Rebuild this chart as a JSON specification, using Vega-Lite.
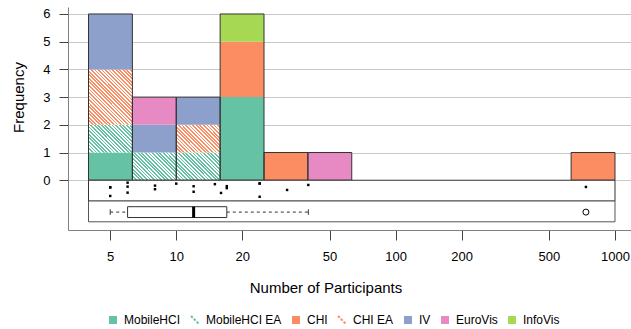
{
  "$schema": "https://vega.github.io/schema/vega-lite/v6.json",
  "width": 563,
  "height": 223,
  "autosize": {"type": "none"},
  "padding": {"left": 68, "top": 7, "right": 0, "bottom": 99},
  "background": "white",
  "config": {"view": {"stroke": null}, "font": "Liberation Sans"},
  "datasets": {
    "bins": [
      {"lo": 3.981, "hi": 6.31, "cat": "MobileHCI", "n": 1},
      {"lo": 3.981, "hi": 6.31, "cat": "MobileHCI EA", "n": 1},
      {"lo": 3.981, "hi": 6.31, "cat": "CHI EA", "n": 2},
      {"lo": 3.981, "hi": 6.31, "cat": "IV", "n": 2},
      {"lo": 6.31, "hi": 10, "cat": "MobileHCI EA", "n": 1},
      {"lo": 6.31, "hi": 10, "cat": "IV", "n": 1},
      {"lo": 6.31, "hi": 10, "cat": "EuroVis", "n": 1},
      {"lo": 10, "hi": 15.85, "cat": "MobileHCI EA", "n": 1},
      {"lo": 10, "hi": 15.85, "cat": "CHI EA", "n": 1},
      {"lo": 10, "hi": 15.85, "cat": "IV", "n": 1},
      {"lo": 15.85, "hi": 25.12, "cat": "MobileHCI", "n": 3},
      {"lo": 15.85, "hi": 25.12, "cat": "CHI", "n": 2},
      {"lo": 15.85, "hi": 25.12, "cat": "InfoVis", "n": 1},
      {"lo": 25.12, "hi": 39.81, "cat": "CHI", "n": 1},
      {"lo": 39.81, "hi": 63.1, "cat": "EuroVis", "n": 1},
      {"lo": 630.96, "hi": 1000, "cat": "CHI", "n": 1}
    ],
    "studies": [
      {"value": 5, "jitter": -0.253},
      {"value": 5, "jitter": -0.567},
      {"value": 5, "jitter": -0.26},
      {"value": 6, "jitter": -0.087},
      {"value": 6, "jitter": -0.231},
      {"value": 6, "jitter": -0.448},
      {"value": 8, "jitter": -0.195},
      {"value": 8, "jitter": -0.325},
      {"value": 10, "jitter": -0.123},
      {"value": 12, "jitter": -0.217},
      {"value": 12, "jitter": -0.416},
      {"value": 15, "jitter": -0.141},
      {"value": 16, "jitter": -0.459},
      {"value": 17, "jitter": -0.213},
      {"value": 17, "jitter": -0.286},
      {"value": 24, "jitter": -0.116},
      {"value": 24, "jitter": -0.12},
      {"value": 24, "jitter": -0.596},
      {"value": 32, "jitter": -0.351},
      {"value": 40, "jitter": -0.17},
      {"value": 737, "jitter": -0.242}
    ],
    "box": [{"min": 5, "q1": 6, "med": 12, "q3": 17, "max": 40, "out": 737}]
  },
  "layer": [
    {
      "data": {"name": "bins"},
      "transform": [
        {"calculate": "indexof(['MobileHCI','MobileHCI EA','CHI','CHI EA','IV','EuroVis','InfoVis'], datum.cat)", "as": "ord"},
        {"stack": "n", "groupby": ["lo"], "sort": [{"field": "ord", "order": "ascending"}], "as": ["y0", "y1"]}
      ],
      "mark": {"type": "rect"},
      "encoding": {
        "x": {
          "field": "lo", "type": "quantitative", "title": "Number of Participants",
          "scale": {"type": "log", "domain": [3.21, 1183], "nice": false},
          "axis": {
            "values": [5, 10, 20, 50, 100, 200, 500, 1000], "tickCount": 20, "format": "d", "grid": false,
            "tickSize": 10, "tickColor": "#444", "domainColor": "#808080",
            "labelFontSize": 13, "labelColor": "#000", "labelPadding": 10, "labelFlush": false, "labelOverlap": false,
            "titleFontSize": 15, "titleFontWeight": "normal", "titleColor": "#000", "titlePadding": 17, "titleX": 257.5
          }
        },
        "x2": {"field": "hi"},
        "y": {
          "field": "y0", "type": "quantitative", "title": "Frequency",
          "scale": {"domain": [-1.796, 6.252], "nice": false, "zero": false},
          "axis": {
            "values": [0, 1, 2, 3, 4, 5, 6], "tickCount": 12, "format": "d", "grid": true, "gridColor": "#c8c8c8", "labelOverlap": false,
            "tickSize": 9, "tickColor": "#444", "domainColor": "#808080",
            "labelFontSize": 13, "labelColor": "#000", "labelPadding": 9,
            "titleFontSize": 15, "titleFontWeight": "normal", "titleColor": "#000", "titlePadding": 16, "titleY": 90
          }
        },
        "y2": {"field": "y1"},
        "fill": {
          "field": "cat", "type": "nominal",
          "scale": {
            "domain": ["MobileHCI", "MobileHCI EA", "CHI", "CHI EA", "IV", "EuroVis", "InfoVis"],
            "range": ["#66c2a5", "#66c2a5", "#fc8d62", "#fc8d62", "#8da0cb", "#e78ac3", "#a6d854"]
          },
          "legend": {
            "title": null, "orient": "none", "legendX": 39, "legendY": 307, "direction": "horizontal",
            "symbolSize": 64, "labelFontSize": 12, "labelFont": "Liberation Sans", "labelColor": "#000",
            "columnPadding": 6, "labelOffset": 5,
            "encode": {"symbols": {"update": {
              "shape": {"signal": "indexof(datum.value, ' EA') >= 0 ? 'M-1,-1L1,1' : 'square'"},
              "fill": {"signal": "indexof(datum.value, ' EA') >= 0 ? 'transparent' : scale('fill', datum.value)"},
              "stroke": {"signal": "indexof(datum.value, ' EA') >= 0 ? scale('fill', datum.value) : 'transparent'"},
              "strokeWidth": {"value": 2},
              "strokeDash": {"value": [2.5, 1.5]}
            }}}
          },
          "condition": [
            {"test": "datum.cat === 'MobileHCI EA'", "value": {"gradient": "linear", "x1": 0, "y1": 1, "x2": 1.1673, "y2": 0.2658, "stops": [
{"offset":0,"color":"#66c2a5"},{"offset":0.025,"color":"#66c2a5"},{"offset":0.025,"color":"#fff"},{"offset":0.05,"color":"#fff"},
{"offset":0.05,"color":"#66c2a5"},{"offset":0.075,"color":"#66c2a5"},{"offset":0.075,"color":"#fff"},{"offset":0.1,"color":"#fff"},
{"offset":0.1,"color":"#66c2a5"},{"offset":0.125,"color":"#66c2a5"},{"offset":0.125,"color":"#fff"},{"offset":0.15,"color":"#fff"},
{"offset":0.15,"color":"#66c2a5"},{"offset":0.175,"color":"#66c2a5"},{"offset":0.175,"color":"#fff"},{"offset":0.2,"color":"#fff"},
{"offset":0.2,"color":"#66c2a5"},{"offset":0.225,"color":"#66c2a5"},{"offset":0.225,"color":"#fff"},{"offset":0.25,"color":"#fff"},
{"offset":0.25,"color":"#66c2a5"},{"offset":0.275,"color":"#66c2a5"},{"offset":0.275,"color":"#fff"},{"offset":0.3,"color":"#fff"},
{"offset":0.3,"color":"#66c2a5"},{"offset":0.325,"color":"#66c2a5"},{"offset":0.325,"color":"#fff"},{"offset":0.35,"color":"#fff"},
{"offset":0.35,"color":"#66c2a5"},{"offset":0.375,"color":"#66c2a5"},{"offset":0.375,"color":"#fff"},{"offset":0.4,"color":"#fff"},
{"offset":0.4,"color":"#66c2a5"},{"offset":0.425,"color":"#66c2a5"},{"offset":0.425,"color":"#fff"},{"offset":0.45,"color":"#fff"},
{"offset":0.45,"color":"#66c2a5"},{"offset":0.475,"color":"#66c2a5"},{"offset":0.475,"color":"#fff"},{"offset":0.5,"color":"#fff"},
{"offset":0.5,"color":"#66c2a5"},{"offset":0.525,"color":"#66c2a5"},{"offset":0.525,"color":"#fff"},{"offset":0.55,"color":"#fff"},
{"offset":0.55,"color":"#66c2a5"},{"offset":0.575,"color":"#66c2a5"},{"offset":0.575,"color":"#fff"},{"offset":0.6,"color":"#fff"},
{"offset":0.6,"color":"#66c2a5"},{"offset":0.625,"color":"#66c2a5"},{"offset":0.625,"color":"#fff"},{"offset":0.65,"color":"#fff"},
{"offset":0.65,"color":"#66c2a5"},{"offset":0.675,"color":"#66c2a5"},{"offset":0.675,"color":"#fff"},{"offset":0.7,"color":"#fff"},
{"offset":0.7,"color":"#66c2a5"},{"offset":0.725,"color":"#66c2a5"},{"offset":0.725,"color":"#fff"},{"offset":0.75,"color":"#fff"},
{"offset":0.75,"color":"#66c2a5"},{"offset":0.775,"color":"#66c2a5"},{"offset":0.775,"color":"#fff"},{"offset":0.8,"color":"#fff"},
{"offset":0.8,"color":"#66c2a5"},{"offset":0.825,"color":"#66c2a5"},{"offset":0.825,"color":"#fff"},{"offset":0.85,"color":"#fff"},
{"offset":0.85,"color":"#66c2a5"},{"offset":0.875,"color":"#66c2a5"},{"offset":0.875,"color":"#fff"},{"offset":0.9,"color":"#fff"},
{"offset":0.9,"color":"#66c2a5"},{"offset":0.925,"color":"#66c2a5"},{"offset":0.925,"color":"#fff"},{"offset":0.95,"color":"#fff"},
{"offset":0.95,"color":"#66c2a5"},{"offset":0.975,"color":"#66c2a5"},{"offset":0.975,"color":"#fff"},{"offset":1,"color":"#fff"}
            ]}},
            {"test": "datum.cat === 'CHI EA' && datum.n === 1", "value": {"gradient": "linear", "x1": 0, "y1": 1, "x2": 1.1673, "y2": 0.2658, "stops": [
{"offset":0,"color":"#fc8d62"},{"offset":0.025,"color":"#fc8d62"},{"offset":0.025,"color":"#fff"},{"offset":0.05,"color":"#fff"},
{"offset":0.05,"color":"#fc8d62"},{"offset":0.075,"color":"#fc8d62"},{"offset":0.075,"color":"#fff"},{"offset":0.1,"color":"#fff"},
{"offset":0.1,"color":"#fc8d62"},{"offset":0.125,"color":"#fc8d62"},{"offset":0.125,"color":"#fff"},{"offset":0.15,"color":"#fff"},
{"offset":0.15,"color":"#fc8d62"},{"offset":0.175,"color":"#fc8d62"},{"offset":0.175,"color":"#fff"},{"offset":0.2,"color":"#fff"},
{"offset":0.2,"color":"#fc8d62"},{"offset":0.225,"color":"#fc8d62"},{"offset":0.225,"color":"#fff"},{"offset":0.25,"color":"#fff"},
{"offset":0.25,"color":"#fc8d62"},{"offset":0.275,"color":"#fc8d62"},{"offset":0.275,"color":"#fff"},{"offset":0.3,"color":"#fff"},
{"offset":0.3,"color":"#fc8d62"},{"offset":0.325,"color":"#fc8d62"},{"offset":0.325,"color":"#fff"},{"offset":0.35,"color":"#fff"},
{"offset":0.35,"color":"#fc8d62"},{"offset":0.375,"color":"#fc8d62"},{"offset":0.375,"color":"#fff"},{"offset":0.4,"color":"#fff"},
{"offset":0.4,"color":"#fc8d62"},{"offset":0.425,"color":"#fc8d62"},{"offset":0.425,"color":"#fff"},{"offset":0.45,"color":"#fff"},
{"offset":0.45,"color":"#fc8d62"},{"offset":0.475,"color":"#fc8d62"},{"offset":0.475,"color":"#fff"},{"offset":0.5,"color":"#fff"},
{"offset":0.5,"color":"#fc8d62"},{"offset":0.525,"color":"#fc8d62"},{"offset":0.525,"color":"#fff"},{"offset":0.55,"color":"#fff"},
{"offset":0.55,"color":"#fc8d62"},{"offset":0.575,"color":"#fc8d62"},{"offset":0.575,"color":"#fff"},{"offset":0.6,"color":"#fff"},
{"offset":0.6,"color":"#fc8d62"},{"offset":0.625,"color":"#fc8d62"},{"offset":0.625,"color":"#fff"},{"offset":0.65,"color":"#fff"},
{"offset":0.65,"color":"#fc8d62"},{"offset":0.675,"color":"#fc8d62"},{"offset":0.675,"color":"#fff"},{"offset":0.7,"color":"#fff"},
{"offset":0.7,"color":"#fc8d62"},{"offset":0.725,"color":"#fc8d62"},{"offset":0.725,"color":"#fff"},{"offset":0.75,"color":"#fff"},
{"offset":0.75,"color":"#fc8d62"},{"offset":0.775,"color":"#fc8d62"},{"offset":0.775,"color":"#fff"},{"offset":0.8,"color":"#fff"},
{"offset":0.8,"color":"#fc8d62"},{"offset":0.825,"color":"#fc8d62"},{"offset":0.825,"color":"#fff"},{"offset":0.85,"color":"#fff"},
{"offset":0.85,"color":"#fc8d62"},{"offset":0.875,"color":"#fc8d62"},{"offset":0.875,"color":"#fff"},{"offset":0.9,"color":"#fff"},
{"offset":0.9,"color":"#fc8d62"},{"offset":0.925,"color":"#fc8d62"},{"offset":0.925,"color":"#fff"},{"offset":0.95,"color":"#fff"},
{"offset":0.95,"color":"#fc8d62"},{"offset":0.975,"color":"#fc8d62"},{"offset":0.975,"color":"#fff"},{"offset":1,"color":"#fff"}
            ]}},
            {"test": "datum.cat === 'CHI EA' && datum.n === 2", "value": {"gradient": "linear", "x1": 0, "y1": 1, "x2": 0.8743, "y2": -0.0999, "stops": [
{"offset":0,"color":"#fc8d62"},{"offset":0.0179,"color":"#fc8d62"},{"offset":0.0179,"color":"#fff"},{"offset":0.0357,"color":"#fff"},
{"offset":0.0357,"color":"#fc8d62"},{"offset":0.0536,"color":"#fc8d62"},{"offset":0.0536,"color":"#fff"},{"offset":0.0714,"color":"#fff"},
{"offset":0.0714,"color":"#fc8d62"},{"offset":0.0893,"color":"#fc8d62"},{"offset":0.0893,"color":"#fff"},{"offset":0.1071,"color":"#fff"},
{"offset":0.1071,"color":"#fc8d62"},{"offset":0.125,"color":"#fc8d62"},{"offset":0.125,"color":"#fff"},{"offset":0.1429,"color":"#fff"},
{"offset":0.1429,"color":"#fc8d62"},{"offset":0.1607,"color":"#fc8d62"},{"offset":0.1607,"color":"#fff"},{"offset":0.1786,"color":"#fff"},
{"offset":0.1786,"color":"#fc8d62"},{"offset":0.1964,"color":"#fc8d62"},{"offset":0.1964,"color":"#fff"},{"offset":0.2143,"color":"#fff"},
{"offset":0.2143,"color":"#fc8d62"},{"offset":0.2321,"color":"#fc8d62"},{"offset":0.2321,"color":"#fff"},{"offset":0.25,"color":"#fff"},
{"offset":0.25,"color":"#fc8d62"},{"offset":0.2679,"color":"#fc8d62"},{"offset":0.2679,"color":"#fff"},{"offset":0.2857,"color":"#fff"},
{"offset":0.2857,"color":"#fc8d62"},{"offset":0.3036,"color":"#fc8d62"},{"offset":0.3036,"color":"#fff"},{"offset":0.3214,"color":"#fff"},
{"offset":0.3214,"color":"#fc8d62"},{"offset":0.3393,"color":"#fc8d62"},{"offset":0.3393,"color":"#fff"},{"offset":0.3571,"color":"#fff"},
{"offset":0.3571,"color":"#fc8d62"},{"offset":0.375,"color":"#fc8d62"},{"offset":0.375,"color":"#fff"},{"offset":0.3929,"color":"#fff"},
{"offset":0.3929,"color":"#fc8d62"},{"offset":0.4107,"color":"#fc8d62"},{"offset":0.4107,"color":"#fff"},{"offset":0.4286,"color":"#fff"},
{"offset":0.4286,"color":"#fc8d62"},{"offset":0.4464,"color":"#fc8d62"},{"offset":0.4464,"color":"#fff"},{"offset":0.4643,"color":"#fff"},
{"offset":0.4643,"color":"#fc8d62"},{"offset":0.4821,"color":"#fc8d62"},{"offset":0.4821,"color":"#fff"},{"offset":0.5,"color":"#fff"},
{"offset":0.5,"color":"#fc8d62"},{"offset":0.5179,"color":"#fc8d62"},{"offset":0.5179,"color":"#fff"},{"offset":0.5357,"color":"#fff"},
{"offset":0.5357,"color":"#fc8d62"},{"offset":0.5536,"color":"#fc8d62"},{"offset":0.5536,"color":"#fff"},{"offset":0.5714,"color":"#fff"},
{"offset":0.5714,"color":"#fc8d62"},{"offset":0.5893,"color":"#fc8d62"},{"offset":0.5893,"color":"#fff"},{"offset":0.6071,"color":"#fff"},
{"offset":0.6071,"color":"#fc8d62"},{"offset":0.625,"color":"#fc8d62"},{"offset":0.625,"color":"#fff"},{"offset":0.6429,"color":"#fff"},
{"offset":0.6429,"color":"#fc8d62"},{"offset":0.6607,"color":"#fc8d62"},{"offset":0.6607,"color":"#fff"},{"offset":0.6786,"color":"#fff"},
{"offset":0.6786,"color":"#fc8d62"},{"offset":0.6964,"color":"#fc8d62"},{"offset":0.6964,"color":"#fff"},{"offset":0.7143,"color":"#fff"},
{"offset":0.7143,"color":"#fc8d62"},{"offset":0.7321,"color":"#fc8d62"},{"offset":0.7321,"color":"#fff"},{"offset":0.75,"color":"#fff"},
{"offset":0.75,"color":"#fc8d62"},{"offset":0.7679,"color":"#fc8d62"},{"offset":0.7679,"color":"#fff"},{"offset":0.7857,"color":"#fff"},
{"offset":0.7857,"color":"#fc8d62"},{"offset":0.8036,"color":"#fc8d62"},{"offset":0.8036,"color":"#fff"},{"offset":0.8214,"color":"#fff"},
{"offset":0.8214,"color":"#fc8d62"},{"offset":0.8393,"color":"#fc8d62"},{"offset":0.8393,"color":"#fff"},{"offset":0.8571,"color":"#fff"},
{"offset":0.8571,"color":"#fc8d62"},{"offset":0.875,"color":"#fc8d62"},{"offset":0.875,"color":"#fff"},{"offset":0.8929,"color":"#fff"},
{"offset":0.8929,"color":"#fc8d62"},{"offset":0.9107,"color":"#fc8d62"},{"offset":0.9107,"color":"#fff"},{"offset":0.9286,"color":"#fff"},
{"offset":0.9286,"color":"#fc8d62"},{"offset":0.9464,"color":"#fc8d62"},{"offset":0.9464,"color":"#fff"},{"offset":0.9643,"color":"#fff"},
{"offset":0.9643,"color":"#fc8d62"},{"offset":0.9821,"color":"#fc8d62"},{"offset":0.9821,"color":"#fff"},{"offset":1,"color":"#fff"}
            ]}}
          ]
        }
      }
    },
    {
      "data": {"name": "bins"},
      "transform": [{"aggregate": [{"op": "sum", "field": "n", "as": "total"}], "groupby": ["lo", "hi"]}],
      "mark": {"type": "rect", "fill": "transparent", "stroke": "#333", "strokeWidth": 1},
      "encoding": {
        "x": {"field": "lo", "type": "quantitative", "title": "Number of Participants"},
        "x2": {"field": "hi"},
        "y": {"field": "total", "type": "quantitative", "title": "Frequency"},
        "y2": {"datum": 0}
      }
    },
    {
      "data": {"name": "box"},
      "mark": {"type": "rect", "fill": "white", "stroke": "#333", "strokeWidth": 1},
      "encoding": {
        "x": {"datum": 3.981, "type": "quantitative", "title": "Number of Participants"},
        "x2": {"datum": 1000},
        "y": {"datum": 0, "type": "quantitative", "title": "Frequency"},
        "y2": {"datum": -0.75}
      }
    },
    {
      "data": {"name": "box"},
      "mark": {"type": "rect", "fill": "white", "stroke": "#555", "strokeWidth": 1},
      "encoding": {
        "x": {"datum": 3.981, "type": "quantitative", "title": "Number of Participants"},
        "x2": {"datum": 1000},
        "y": {"datum": -0.75, "type": "quantitative", "title": "Frequency"},
        "y2": {"datum": -1.5}
      }
    },
    {
      "data": {"name": "studies"},
      "mark": {"type": "point", "shape": "square", "filled": true, "color": "#000", "size": 6, "opacity": 1},
      "encoding": {
        "x": {"field": "value", "type": "quantitative", "title": "Number of Participants"},
        "y": {"field": "jitter", "type": "quantitative", "title": "Frequency"}
      }
    },
    {
      "data": {"name": "box"},
      "mark": {"type": "rule", "stroke": "#333", "strokeWidth": 1, "strokeDash": [3, 3]},
      "encoding": {
        "x": {"field": "min", "type": "quantitative", "title": "Number of Participants"},
        "x2": {"field": "q1"},
        "y": {"datum": -1.15, "type": "quantitative", "title": "Frequency"}
      }
    },
    {
      "data": {"name": "box"},
      "mark": {"type": "rule", "stroke": "#333", "strokeWidth": 1, "strokeDash": [3, 3]},
      "encoding": {
        "x": {"field": "q3", "type": "quantitative", "title": "Number of Participants"},
        "x2": {"field": "max"},
        "y": {"datum": -1.15, "type": "quantitative", "title": "Frequency"}
      }
    },
    {
      "data": {"name": "box"},
      "mark": {"type": "rule", "stroke": "#333", "strokeWidth": 1},
      "encoding": {
        "x": {"field": "min", "type": "quantitative", "title": "Number of Participants"},
        "y": {"datum": -1.05, "type": "quantitative", "title": "Frequency"},
        "y2": {"datum": -1.25}
      }
    },
    {
      "data": {"name": "box"},
      "mark": {"type": "rule", "stroke": "#333", "strokeWidth": 1},
      "encoding": {
        "x": {"field": "max", "type": "quantitative", "title": "Number of Participants"},
        "y": {"datum": -1.05, "type": "quantitative", "title": "Frequency"},
        "y2": {"datum": -1.25}
      }
    },
    {
      "data": {"name": "box"},
      "mark": {"type": "rect", "fill": "white", "stroke": "#333", "strokeWidth": 1},
      "encoding": {
        "x": {"field": "q1", "type": "quantitative", "title": "Number of Participants"},
        "x2": {"field": "q3"},
        "y": {"datum": -0.955, "type": "quantitative", "title": "Frequency"},
        "y2": {"datum": -1.345}
      }
    },
    {
      "data": {"name": "box"},
      "mark": {"type": "rule", "stroke": "#000", "strokeWidth": 3},
      "encoding": {
        "x": {"field": "med", "type": "quantitative", "title": "Number of Participants"},
        "y": {"datum": -0.955, "type": "quantitative", "title": "Frequency"},
        "y2": {"datum": -1.345}
      }
    },
    {
      "data": {"name": "box"},
      "mark": {"type": "point", "shape": "circle", "filled": false, "stroke": "#000", "strokeWidth": 1, "size": 36, "opacity": 1},
      "encoding": {
        "x": {"field": "out", "type": "quantitative", "title": "Number of Participants"},
        "y": {"datum": -1.15, "type": "quantitative", "title": "Frequency"}
      }
    }
  ]
}
